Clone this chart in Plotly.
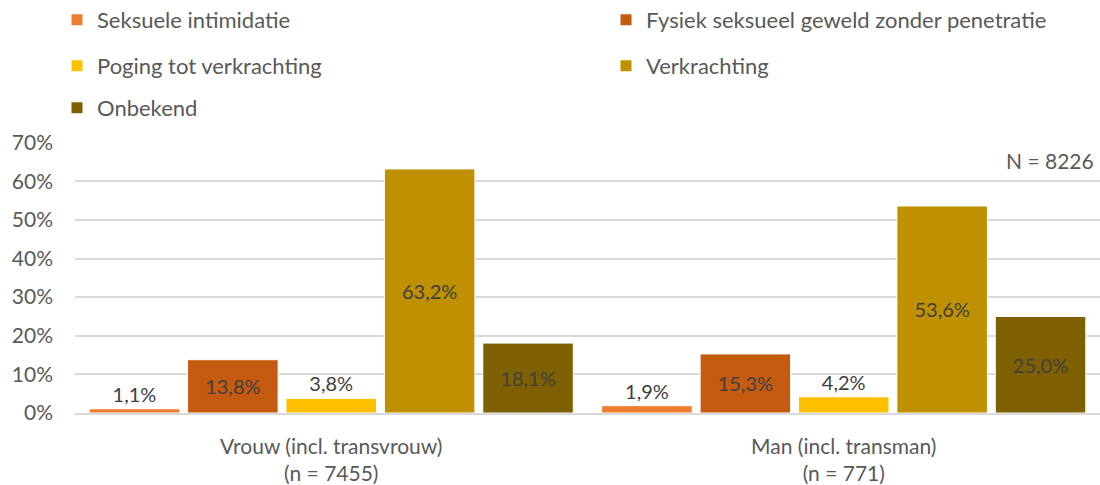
import plotly.graph_objects as go

categories = ["Vrouw (incl. transvrouw)<br>(n = 7455)", "Man (incl. transman)<br>(n = 771)"]
series_names = [
    "Seksuele intimidatie",
    "Fysiek seksueel geweld zonder penetratie",
    "Poging tot verkrachting",
    "Verkrachting",
    "Onbekend",
]
seksuele_intimidatie = [1.1, 1.9]
fysiek_geweld = [13.8, 15.3]
poging_verkrachting = [3.8, 4.2]
verkrachting = [63.2, 53.6]
onbekend = [18.1, 25.0]
y_ticks = [0, 10, 20, 30, 40, 50, 60, 70]
y_tick_labels = ["0%", "10%", "20%", "30%", "40%", "50%", "60%", "70%"]
total_label = "N = 8226"

series_values = [seksuele_intimidatie, fysiek_geweld, poging_verkrachting, verkrachting, onbekend]
colors = ["#ED7D31", "#C55A11", "#FFC000", "#BF9000", "#7F6000"]
legend_ids = ["legend", "legend2", "legend3", "legend4", "legend5"]

FONT = "Lato"
GREY = "#595959"
LABEL = "#404040"

fig = go.Figure()
for name, vals, col, lg in zip(series_names, series_values, colors, legend_ids):
    texts = [f"{v:.1f}".replace(".", ",") + "%" for v in vals]
    positions = ["outside" if v < 8 else "inside" for v in vals]
    fig.add_trace(go.Bar(
        x=categories, y=vals, name=name,
        marker=dict(color=col, line=dict(color="white", width=1)),
        text=texts, textposition=positions, insidetextanchor="middle",
        textfont=dict(family=FONT, size=20, color=LABEL),
        constraintext="none", cliponaxis=False,
        legend=lg, hoverinfo="skip",
    ))

leg_common = dict(
    orientation="h", xref="container", yref="container",
    xanchor="left", yanchor="middle",
    font=dict(family=FONT, size=22, color=GREY),
    itemwidth=30, bgcolor="rgba(0,0,0,0)", borderwidth=0,
)
col1 = 57 / 1100
col2 = 606 / 1100
row = lambda py: 1 - py / 485
fig.update_layout(
    width=1100, height=485,
    margin=dict(l=75, r=0, t=140, b=72),
    paper_bgcolor="white", plot_bgcolor="white",
    barmode="group", bargap=0.04, bargroupgap=0.08,
    showlegend=True,
    legend=dict(leg_common, x=col1, y=row(20)),
    legend2=dict(leg_common, x=col2, y=row(20)),
    legend3=dict(leg_common, x=col1, y=row(66)),
    legend4=dict(leg_common, x=col2, y=row(66)),
    legend5=dict(leg_common, x=col1, y=row(108)),
    font=dict(family=FONT, size=20, color=GREY),
    yaxis=dict(
        range=[0, 70], tickvals=y_ticks, ticktext=y_tick_labels,
        showgrid=True, gridcolor="#D9D9D9", gridwidth=1.5,
        zeroline=False, showline=False, ticks="", ticklabelstandoff=21,
        tickfont=dict(family=FONT, size=21, color=GREY),
    ),
    xaxis=dict(
        showline=True, linecolor="#D9D9D9", linewidth=1.5, ticks="",
        ticklabelstandoff=14,
        tickfont=dict(family=FONT, size=21, color=GREY),
    ),
    annotations=[dict(
        text=total_label, xref="paper", yref="paper", x=1, y=0.934,
        xanchor="right", yanchor="middle", xshift=-4, showarrow=False,
        font=dict(family=FONT, size=21, color=GREY),
    )],
)

fig.write_html("out.html", config={"displayModeBar": False},
               post_script="document.body.style.margin='0';")
